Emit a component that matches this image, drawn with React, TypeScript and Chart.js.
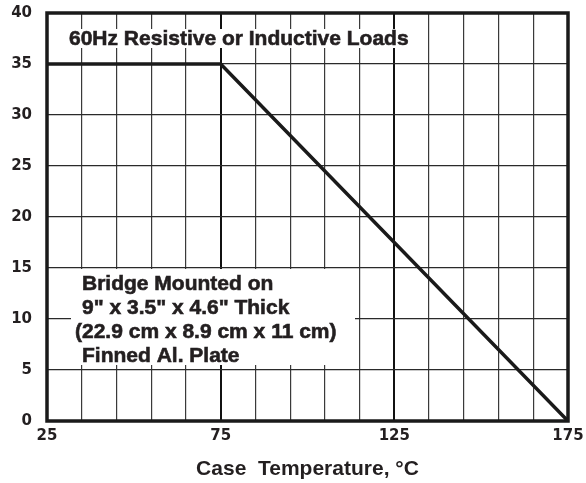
import React, { useEffect, useRef } from "react";
import { Chart, registerables } from "chart.js";

Chart.register(...registerables);

const curveTemps = [25, 75, 175];
const curveCurrent = [35, 35, 0];
const xMin = 25;
const xMax = 175;
const xStep = 10;
const xLabelEvery = 50;
const yMin = 0;
const yMax = 40;
const yStep = 5;
const majorTemps = [75, 125];
const titleText = "60Hz Resistive or Inductive Loads";
const noteLines = [
  "Bridge Mounted on",
  "9\" x 3.5\" x 4.6\" Thick",
  "(22.9 cm x 8.9 cm x 11 cm)",
  "Finned Al. Plate",
];
const xAxisTitle = "Case  Temperature, °C";

const TEXT = "#231f20";
const ANN_FONT = "bold 21px 'Liberation Sans', Arial, sans-serif";
const TICK_FONT = { family: "'DejaVu Sans', sans-serif", size: 15, weight: "bold" as const };

const overlay = {
  id: "overlay",
  beforeDatasetsDraw(chart: any) {
    const { ctx, chartArea } = chart;
    const L = chartArea.left;
    const T = chartArea.top;
    ctx.save();
    ctx.font = ANN_FONT;
    ctx.textBaseline = "alphabetic";
    ctx.textAlign = "left";
    ctx.lineWidth = 0.6;
    ctx.strokeStyle = TEXT;
    // title
    const tw = ctx.measureText(titleText).width;
    ctx.fillStyle = "#fff";
    ctx.fillRect(L + 20, T + 16, tw + 4, 19);
    ctx.fillStyle = TEXT;
    ctx.fillText(titleText, L + 22, T + 32);
    ctx.strokeText(titleText, L + 22, T + 32);
    // note block
    ctx.fillStyle = "#fff";
    ctx.fillRect(L + 24, T + 256, 284, 96);
    ctx.fillStyle = TEXT;
    const offs = [35, 35, 28, 35];
    noteLines.forEach((ln, i) => {
      ctx.fillText(ln, L + offs[i], T + 277 + i * 24);
      ctx.strokeText(ln, L + offs[i], T + 277 + i * 24);
    });
    ctx.restore();
  },
  afterDatasetsDraw(chart: any) {
    const { ctx, chartArea } = chart;
    ctx.save();
    ctx.strokeStyle = "#1a1a1a";
    ctx.lineWidth = 3.5;
    ctx.strokeRect(
      chartArea.left,
      chartArea.top,
      chartArea.right - chartArea.left,
      chartArea.bottom - chartArea.top
    );
    ctx.restore();
  },
};

export default function App() {
  const ref = useRef<HTMLCanvasElement>(null);
  useEffect(() => {
    const canvas = ref.current!;
    const chart = new Chart(canvas, {
      type: "line",
      data: {
        datasets: [
          {
            data: curveTemps.map((t, i) => ({ x: t, y: curveCurrent[i] })),
            borderColor: "#1a1a1a",
            borderWidth: 3.5,
            pointRadius: 0,
            tension: 0,
            fill: false,
          },
        ],
      },
      options: {
        responsive: false,
        animation: false,
        events: [],
        layout: { padding: { top: 13, right: 18, left: 0, bottom: 0 } },
        plugins: { legend: { display: false }, tooltip: { enabled: false } },
        scales: {
          x: {
            type: "linear",
            min: xMin,
            max: xMax,
            afterFit: (s: any) => {
              s.height = 62;
              s.paddingLeft = 0;
              s.paddingRight = 0;
            },
            afterBuildTicks: (s: any) => {
              const t = [];
              for (let v = xMin; v <= xMax; v += xStep) t.push({ value: v });
              s.ticks = t;
            },
            ticks: {
              autoSkip: false,
              maxRotation: 0,
              padding: 6,
              color: TEXT,
              font: TICK_FONT,
              callback: (v: any) => ((Number(v) - xMin) % xLabelEvery === 0 ? String(v) : ""),
            },
            grid: {
              drawTicks: false,
              color: (c: any) => (majorTemps.includes(c.tick?.value) ? "#111" : "#3a3a3a"),
              lineWidth: (c: any) => (majorTemps.includes(c.tick?.value) ? 2 : 1.2),
            },
            border: { display: false },
            title: {
              display: true,
              text: xAxisTitle,
              color: TEXT,
              font: { family: "'Liberation Sans', Arial, sans-serif", size: 21, weight: "bold" },
              padding: { top: 0, bottom: 1 },
            },
          },
          y: {
            type: "linear",
            min: yMin,
            max: yMax,
            afterFit: (s: any) => {
              s.width = 47;
              s.paddingTop = 0;
              s.paddingBottom = 0;
            },
            ticks: {
              stepSize: yStep,
              padding: 15,
              color: TEXT,
              font: TICK_FONT,
            },
            grid: {
              drawTicks: false,
              color: "#2a2a2a",
              lineWidth: 1.2,
            },
            border: { display: false },
          },
        },
      },
      plugins: [overlay],
    });
    return () => chart.destroy();
  }, []);
  return (
    <div style={{ position: "absolute", left: 0, top: 0, width: 586, height: 483, background: "#fff" }}>
      <canvas ref={ref} width={586} height={483} />
    </div>
  );
}
